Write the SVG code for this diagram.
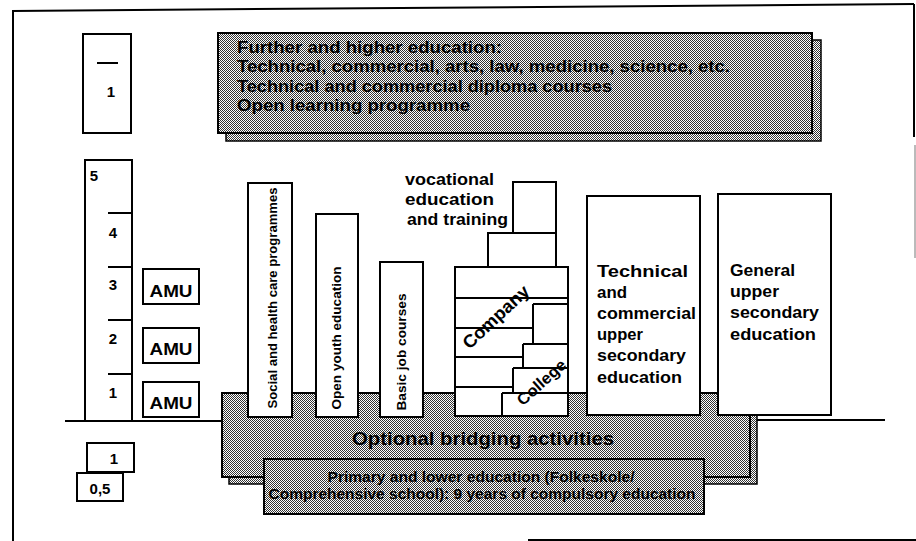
<svg xmlns="http://www.w3.org/2000/svg" width="916" height="541" viewBox="0 0 916 541">
<defs>
<pattern id="dots" width="2" height="2" patternUnits="userSpaceOnUse">
<rect width="2" height="2" fill="#fff"/>
<rect width="1" height="1" fill="#333"/>
<rect x="1" y="1" width="1" height="1" fill="#333"/>
</pattern>
</defs>
<style>
.box{fill:#fff;stroke:#000;stroke-width:2}
.gray{fill:url(#dots);stroke:#000;stroke-width:2}
.shadow{fill:url(#dots);stroke:#000;stroke-width:1.5}
.ln{stroke:#000;stroke-width:2;fill:none}
text{font-family:"Liberation Sans",Arial,Helvetica,sans-serif;font-weight:bold;fill:#000}
.t17{font-size:17px}
.t16{font-size:16px}
.t15{font-size:15px}
.t14{font-size:14px}
.t13{font-size:13px}
.mid{text-anchor:middle}
</style>
<rect width="916" height="541" fill="#fff"/>
<g id="frame">
<line x1="12" y1="11" x2="914" y2="4" class="ln"/>
<line x1="13" y1="10" x2="13" y2="541" class="ln"/>
<line x1="914" y1="4" x2="914" y2="137" class="ln"/>
<line x1="915" y1="145" x2="915" y2="258" stroke="#777" stroke-width="1"/>
<line x1="528" y1="540" x2="916" y2="540" class="ln"/>
</g>
<g id="connectors">
<line x1="65" y1="421" x2="230" y2="421" class="ln"/>
<line x1="750" y1="420" x2="885" y2="420" class="ln"/>
</g>
<g id="further">
<rect x="226" y="40" width="595" height="101" class="shadow"/>
<rect x="218" y="33" width="594" height="100" class="gray"/>
<text x="237" y="53" class="t16" textLength="265" lengthAdjust="spacingAndGlyphs">Further and higher education:</text>
<text x="237" y="72" class="t16" textLength="493" lengthAdjust="spacingAndGlyphs">Technical, commercial, arts, law, medicine, science, etc.</text>
<text x="237" y="92" class="t16" textLength="375" lengthAdjust="spacingAndGlyphs">Technical and commercial diploma courses</text>
<text x="237" y="111" class="t16" textLength="233" lengthAdjust="spacingAndGlyphs">Open learning programme</text>
</g>
<g id="further-years">
<rect x="83" y="34" width="48" height="99" class="box"/>
<line x1="97" y1="63" x2="118" y2="63" class="ln"/>
<text x="111" y="97" class="t15 mid">1</text>
</g>
<g id="years-column">
<rect x="85" y="160" width="47" height="261" class="box"/>
<line x1="108" y1="213" x2="132" y2="213" class="ln"/>
<line x1="108" y1="267" x2="132" y2="267" class="ln"/>
<line x1="108" y1="320" x2="132" y2="320" class="ln"/>
<line x1="108" y1="374" x2="132" y2="374" class="ln"/>
<text x="94" y="181" class="t15 mid">5</text>
<text x="113" y="238" class="t15 mid">4</text>
<text x="113" y="290" class="t15 mid">3</text>
<text x="113" y="344" class="t15 mid">2</text>
<text x="113" y="398" class="t15 mid">1</text>
</g>
<g id="amu3">
<rect x="143" y="269" width="56" height="35" class="box"/>
<text x="171" y="297" class="t16 mid" textLength="43" lengthAdjust="spacingAndGlyphs">AMU</text>
</g>
<g id="amu2">
<rect x="143" y="328" width="56" height="35" class="box"/>
<text x="171" y="355" class="t16 mid" textLength="43" lengthAdjust="spacingAndGlyphs">AMU</text>
</g>
<g id="amu1">
<rect x="143" y="382" width="56" height="35" class="box"/>
<text x="171" y="409" class="t16 mid" textLength="43" lengthAdjust="spacingAndGlyphs">AMU</text>
</g>
<g id="bridging">
<rect x="229" y="400" width="528" height="84" class="shadow"/>
<rect x="222" y="393" width="528" height="84" class="gray"/>
<text x="483" y="445" class="mid" style="font-size:19px" textLength="262" lengthAdjust="spacingAndGlyphs">Optional bridging activities</text>
</g>
<g id="primary">
<rect x="264" y="459" width="440" height="55" class="gray"/>
<text x="481" y="482" class="t14 mid" textLength="307" lengthAdjust="spacingAndGlyphs">Primary and lower education (Folkeskole/</text>
<text x="482" y="499" class="t14 mid" textLength="427" lengthAdjust="spacingAndGlyphs">Comprehensive school): 9 years of compulsory education</text>
</g>
<g id="basic-years">
<rect x="87" y="443" width="47" height="29" class="box"/>
<text x="114" y="464" class="t15 mid">1</text>
<rect x="77" y="473" width="46" height="28" class="box"/>
<text x="100" y="494" class="t15 mid">0,5</text>
</g>
<g id="social-health">
<rect x="248" y="183" width="44" height="234" class="box"/>
<text transform="translate(277,298) rotate(-90)" class="t13 mid" textLength="221" lengthAdjust="spacingAndGlyphs">Social and health care programmes</text>
</g>
<g id="open-youth">
<rect x="316" y="214" width="42" height="203" class="box"/>
<text transform="translate(341,338) rotate(-90)" class="t13 mid" textLength="143" lengthAdjust="spacingAndGlyphs">Open youth education</text>
</g>
<g id="basic-job">
<rect x="380" y="262" width="43" height="155" class="box"/>
<text transform="translate(406,352) rotate(-90)" class="t13 mid" textLength="117" lengthAdjust="spacingAndGlyphs">Basic job courses</text>
</g>
<g id="vocational">
<text x="405" y="185" class="t16" textLength="89" lengthAdjust="spacingAndGlyphs">vocational</text>
<text x="405" y="205" class="t16" textLength="89" lengthAdjust="spacingAndGlyphs">education</text>
<text x="407" y="225" class="t16" textLength="101" lengthAdjust="spacingAndGlyphs">and training</text>
<rect x="513" y="182" width="43" height="51" class="box"/>
<rect x="488" y="233" width="68" height="34" class="box"/>
<rect x="455" y="267" width="113" height="149" class="box"/>
<line x1="455" y1="298" x2="568" y2="298" class="ln"/>
<line x1="455" y1="328" x2="533" y2="328" class="ln"/>
<line x1="455" y1="357" x2="523" y2="357" class="ln"/>
<line x1="455" y1="387" x2="513" y2="387" class="ln"/>
<line x1="533" y1="304" x2="568" y2="304" class="ln"/>
<line x1="533" y1="304" x2="533" y2="344" class="ln"/>
<line x1="523" y1="344" x2="568" y2="344" class="ln"/>
<line x1="523" y1="344" x2="523" y2="368" class="ln"/>
<line x1="513" y1="368" x2="568" y2="368" class="ln"/>
<line x1="513" y1="368" x2="513" y2="393" class="ln"/>
<line x1="502" y1="393" x2="568" y2="393" class="ln"/>
<line x1="502" y1="393" x2="502" y2="416" class="ln"/>
<text transform="translate(496,317) rotate(-43)" y="6" class="mid" style="font-size:18px" textLength="84" lengthAdjust="spacingAndGlyphs">Company</text>
<text transform="translate(541,382) rotate(-42)" y="6" class="t16 mid" textLength="60" lengthAdjust="spacingAndGlyphs">College</text>
</g>
<g id="technical">
<rect x="587" y="196" width="113" height="219" class="box"/>
<text x="597" y="277" class="t17" textLength="91" lengthAdjust="spacingAndGlyphs">Technical</text>
<text x="597" y="298" class="t17" textLength="30" lengthAdjust="spacingAndGlyphs">and</text>
<text x="597" y="319" class="t17" textLength="99" lengthAdjust="spacingAndGlyphs">commercial</text>
<text x="597" y="340" class="t17" textLength="46" lengthAdjust="spacingAndGlyphs">upper</text>
<text x="597" y="361" class="t17" textLength="89" lengthAdjust="spacingAndGlyphs">secondary</text>
<text x="597" y="383" class="t17" textLength="85" lengthAdjust="spacingAndGlyphs">education</text>
</g>
<g id="general">
<rect x="718" y="194" width="113" height="221" class="box"/>
<text x="730" y="276" class="t17" textLength="65" lengthAdjust="spacingAndGlyphs">General</text>
<text x="730" y="297" class="t17" textLength="49" lengthAdjust="spacingAndGlyphs">upper</text>
<text x="730" y="318" class="t17" textLength="89" lengthAdjust="spacingAndGlyphs">secondary</text>
<text x="730" y="340" class="t17" textLength="86" lengthAdjust="spacingAndGlyphs">education</text>
</g>
</svg>
